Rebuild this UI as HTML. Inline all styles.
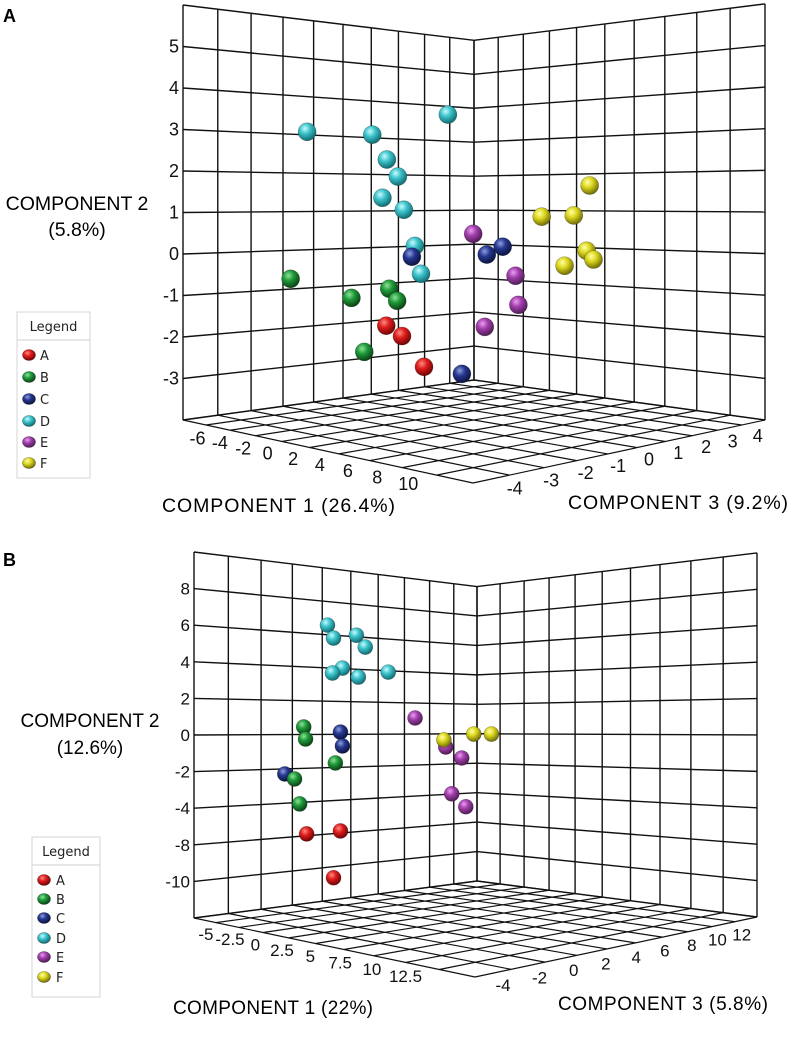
<!DOCTYPE html>
<html>
<head>
<meta charset="utf-8">
<style>
  html,body{margin:0;padding:0;background:#fff;}
  svg{display:block;font-family:"Liberation Sans",Arial,sans-serif;}
  .lg{font-family:"DejaVu Sans","Liberation Sans",sans-serif;}
</style>
</head>
<body>
<svg id="chart" width="800" height="1057" viewBox="0 0 800 1057" xmlns="http://www.w3.org/2000/svg">
  <defs>
    <radialGradient id="g-A" cx="38%" cy="32%" r="65%"><stop offset="0" stop-color="#ff8a80"/><stop offset="0.45" stop-color="#dd1c1c"/><stop offset="1" stop-color="#7a0606"/></radialGradient>
    <radialGradient id="g-B" cx="38%" cy="32%" r="65%"><stop offset="0" stop-color="#8fe39a"/><stop offset="0.45" stop-color="#1f9a3a"/><stop offset="1" stop-color="#0b4a17"/></radialGradient>
    <radialGradient id="g-C" cx="38%" cy="32%" r="65%"><stop offset="0" stop-color="#8f9fe0"/><stop offset="0.45" stop-color="#26378f"/><stop offset="1" stop-color="#0e1748"/></radialGradient>
    <radialGradient id="g-D" cx="38%" cy="32%" r="65%"><stop offset="0" stop-color="#c8fbff"/><stop offset="0.45" stop-color="#3cc3cb"/><stop offset="1" stop-color="#14737a"/></radialGradient>
    <radialGradient id="g-E" cx="38%" cy="32%" r="65%"><stop offset="0" stop-color="#ee9cf3"/><stop offset="0.45" stop-color="#a03fab"/><stop offset="1" stop-color="#581f5e"/></radialGradient>
    <radialGradient id="g-F" cx="38%" cy="32%" r="65%"><stop offset="0" stop-color="#ffffa8"/><stop offset="0.45" stop-color="#dcd71e"/><stop offset="1" stop-color="#7a760a"/></radialGradient>
  </defs>

  <text x="3" y="22" font-size="18" font-weight="bold">A</text>
  <text x="3" y="566" font-size="18" font-weight="bold">B</text>

  <text x="77" y="210" font-size="19.5" text-anchor="middle">COMPONENT 2</text>
  <text x="77" y="236" font-size="19.5" text-anchor="middle">(5.8%)</text>
  <text x="162" y="512" font-size="19.5" textLength="233">COMPONENT 1 (26.4%)</text>
  <text x="568" y="509" font-size="19.5" textLength="220">COMPONENT 3 (9.2%)</text>

  <text x="90" y="727" font-size="19" text-anchor="middle">COMPONENT 2</text>
  <text x="90" y="754" font-size="19" text-anchor="middle">(12.6%)</text>
  <text x="173" y="1014" font-size="19" textLength="200">COMPONENT 1 (22%)</text>
  <text x="558" y="1010" font-size="19" textLength="210">COMPONENT 3 (5.8%)</text>

  <g id="panelA"></g>
  <g id="panelB"></g>
  <g id="legendA"></g>
  <g id="legendB"></g>
</svg>

<script>
// ---------- DATA: Panel A ----------
const A_group = ["D","D","D","D","D","D","D","D","D","C","C","C","C","E","E","E","E","F","F","F","F","F","F","B","B","B","B","B","A","A","A"];
const A_c1 = [1.55,-3.68,-1.26,-0.72,-0.31,-0.89,-0.09,0.32,0.55, 0.21,2.99,3.58,2.07, 2.48,4.06,4.16,2.91, 6.80,5.03,6.21,6.69,6.95,5.87, -4.30,-2.04,-0.63,-0.34,-1.56, -0.74,-0.16,0.66];
const A_c2 = [3.35,2.94,2.87,2.27,1.86,1.35,1.06,0.19,-0.48, -0.07,-0.02,0.17,-2.89, 0.48,-0.53,-1.23,-1.76, 1.64,0.89,0.92,0.07,-0.14,-0.29, -0.60,-1.06,-0.84,-1.13,-2.36, -1.73,-1.98,-2.72];
const A_c3 = [-0.45,-2.76,-1.69,-1.45,-1.27,-1.52,-1.17,-0.99,-0.89, -1.04,0.19,0.45,-0.22, -0.03,0.66,0.71,0.16, 1.88,1.09,1.62,1.83,1.94,1.47, -3.03,-2.03,-1.41,-1.28,-1.82, -1.46,-1.20,-0.84];
const A_yTicks = [-3,-2,-1,0,1,2,3,4,5];
const A_yTickLabels = ["-3","-2","-1","0","1","2","3","4","5"];
const A_xTicks = [-6,-4,-2,0,2,4,6,8,10];
const A_zTicks = [-4,-3,-2,-1,0,1,2,3,4];

// ---------- DATA: Panel B ----------
const B_group = ["D","D","D","D","D","D","D","D","C","C","C","B","B","B","B","B","A","A","A","E","E","E","E","E","F","F","F"];
const B_c1 = [-1.52,-1.27,-0.30,0.08,1.05,-0.89,-1.31,-0.22, -0.97,-0.89,-3.33, -2.53,-2.45,-1.19,-2.80,-2.70, -2.41,-0.97,-1.27, 2.19,3.49,4.17,3.75,4.34, 3.41,4.68,5.43];
const B_c2 = [6.01,5.30,5.46,4.81,3.44,3.66,3.39,3.17, 0.16,-0.60,-2.13, 0.44,-0.22,-1.53,-2.40,-3.77, -5.41,-5.25,-7.81, 0.93,-0.66,-1.26,-3.22,-3.93, -0.27,0.05,0.05];
const B_c3 = [-0.43,-0.22,0.55,0.85,1.63,0.08,-0.26,0.62, 0.01,0.08,-1.87, -1.23,-1.17,-0.16,-1.61,-1.37, -1.13,0.01,-0.22, 2.54,3.58,4.12,3.78,4.26, 3.52,4.53,5.13];
const B_yTicks = [-8,-6,-4,-2,0,2,4,6,8];
const B_yTickLabels = ["-10","-8","-4","-2","0","2","4","6","8"];
const B_xTicks = [-5,-2.5,0,2.5,5,7.5,10,12.5];
const B_zTicks = [-4,-2,0,2,4,6,8,10,12];

const legendGroups = ["A","B","C","D","E","F"];

const NS = "http://www.w3.org/2000/svg";
function mk(tag, attrs, parent){ const e=document.createElementNS(NS,tag); for(const k in attrs) e.setAttribute(k,attrs[k]); parent.appendChild(e); return e; }

function homog(L,F,R,B){
  const x0=L[0],y0=L[1],x1=F[0],y1=F[1],x2=R[0],y2=R[1],x3=B[0],y3=B[1];
  const dx1=x1-x2,dx2=x3-x2,dx3=x0-x1+x2-x3,dy1=y1-y2,dy2=y3-y2,dy3=y0-y1+y2-y3;
  const den=dx1*dy2-dx2*dy1;
  const g=(dx3*dy2-dx2*dy3)/den, h=(dx1*dy3-dx3*dy1)/den;
  return {g,h,a:x1-x0+g*x1,b:x3-x0+h*x3,c:x0,d:y1-y0+g*y1,e:y3-y0+h*y3,f:y0};
}

function drawPanel(root, cfg, group, c1, c2, c3, yTicks, yLabels, xTicks, zTicks, yGrid){
  const H = homog(cfg.L,cfg.F,cfg.R,cfg.B);
  function P(u,v,hv){
    const w=H.g*u+H.h*v+1;
    const x=(H.a*u+H.b*v+H.c)/w;
    const y=(H.d*u+H.e*v+H.f)/w - (hv-cfg.c2min)*cfg.S/w;
    return [x,y];
  }
  const U = val => (val-cfg.c1min)/(cfg.c1max-cfg.c1min);
  const V = val => (val-cfg.c3min)/(cfg.c3max-cfg.c3min);
  function line(p,q,name,sw){
    const l=mk("line",{x1:p[0].toFixed(2),y1:p[1].toFixed(2),x2:q[0].toFixed(2),y2:q[1].toFixed(2),stroke:"#111","stroke-width":sw},root);
    
    
  }
  const N=10, top=cfg.c2max, bot=cfg.c2min;
  for(let k=0;k<=N;k++){
    line(P(k/N,0,bot),P(k/N,1,bot),"floor-grid-line",1.2);
    line(P(0,k/N,bot),P(1,k/N,bot),"floor-grid-line",1.2);
  }
  for(let k=0;k<=N;k++){
    line(P(0,k/N,bot),P(0,k/N,top),"left-wall-grid-line",1.4);
    line(P(k/N,1,bot),P(k/N,1,top),"right-wall-grid-line",1.4);
  }
  yGrid.forEach(hv=>{
    line(P(0,0,hv),P(0,1,hv),"left-wall-grid-line",1.4);
    line(P(0,1,hv),P(1,1,hv),"right-wall-grid-line",1.4);
  });
  yTicks.forEach((t,i)=>{
    const p=P(0,0,t);
    const tx=mk("text",{x:(p[0]-4).toFixed(1),y:(p[1]+6).toFixed(1),"font-size":cfg.fs,"text-anchor":"end",fill:"#111"},root);
    tx.textContent=yLabels[i];
    
    
  });
  xTicks.forEach(t=>{
    const p=P(U(t),0,bot);
    const tx=mk("text",{x:(p[0]+cfg.xOff[0]).toFixed(1),y:(p[1]+cfg.xOff[1]).toFixed(1),"font-size":cfg.fs,"text-anchor":"middle",fill:"#111"},root);
    tx.textContent=String(t);
    
    
  });
  zTicks.forEach(t=>{
    const p=P(1,V(t),bot);
    const tx=mk("text",{x:(p[0]+cfg.zOff[0]).toFixed(1),y:(p[1]+cfg.zOff[1]).toFixed(1),"font-size":cfg.fs,"text-anchor":"middle",fill:"#111"},root);
    tx.textContent=String(t);
    
    
  });
  group.forEach((gname,i)=>{
    const p=P(U(c1[i]),V(c3[i]),c2[i]);
    const c=mk("circle",{cx:p[0].toFixed(2),cy:p[1].toFixed(2),r:cfg.r,fill:"url(#g-"+gname+")",stroke:"rgba(0,0,0,0.35)","stroke-width":0.6},root);
    
    
  });
}

const yGridA=[-4,-3,-2,-1,0,1,2,3,4,5,6];
const yGridB=[-10,-8,-6,-4,-2,0,2,4,6,8,10];

drawPanel(document.getElementById("panelA"),
  {L:[183,420],F:[473,483],R:[765,420],B:[474,380],S:41.5,c1min:-8.3,c1max:13.3,c3min:-4.8,c3max:4.75,c2min:-4,c2max:6,
   fs:18,xOff:[-10,19],zOff:[11,18],r:9},
  A_group,A_c1,A_c2,A_c3,A_yTicks,A_yTickLabels,A_xTicks,A_zTicks,yGridA);

drawPanel(document.getElementById("panelB"),
  {L:[194,918],F:[475,977],R:[757,917],B:[477,881],S:18.3,c1min:-7.17,c1max:16.7,c3min:-4.94,c3max:14.2,c2min:-10,c2max:10,
   fs:17,xOff:[-8,18],zOff:[10,18],r:7.5},
  B_group,B_c1,B_c2,B_c3,B_yTicks,B_yTickLabels,B_xTicks,B_zTicks,yGridB);

function drawLegend(root, x, y, w, h, headH, rowY, cx, tx, fs){
  const box=mk("rect",{x:x,y:y,width:w,height:h,fill:"#fff",stroke:"#d6d6d6","stroke-width":1},root);
  
  
  const sep=mk("line",{x1:x,y1:y+headH,x2:x+w,y2:y+headH,stroke:"#cfcfcf","stroke-width":1},root);
  
  
  const t=mk("text",{x:x+w/2,y:y+headH/2+5,"font-size":fs,"text-anchor":"middle",fill:"#222",class:"lg"},root);
  t.textContent="Legend";
  
  
  legendGroups.forEach((gname,i)=>{
    const yy=rowY[i];
    const c=mk("ellipse",{cx:cx,cy:yy,rx:6.5,ry:5.5,fill:"url(#g-"+gname+")",stroke:"rgba(0,0,0,0.4)","stroke-width":0.6},root);
    
    
    const l=mk("text",{x:tx,y:yy+5,"font-size":fs,fill:"#222",class:"lg"},root);
    l.textContent=gname;
    
    
  });
}
drawLegend(document.getElementById("legendA"),17,312,73,166,28,[355,377,399,421,442,463],29,40,13);
drawLegend(document.getElementById("legendB"),32,837,68,160,28,[880,899,918,938,957,977],44,56,13);
</script>
</body>
</html>
